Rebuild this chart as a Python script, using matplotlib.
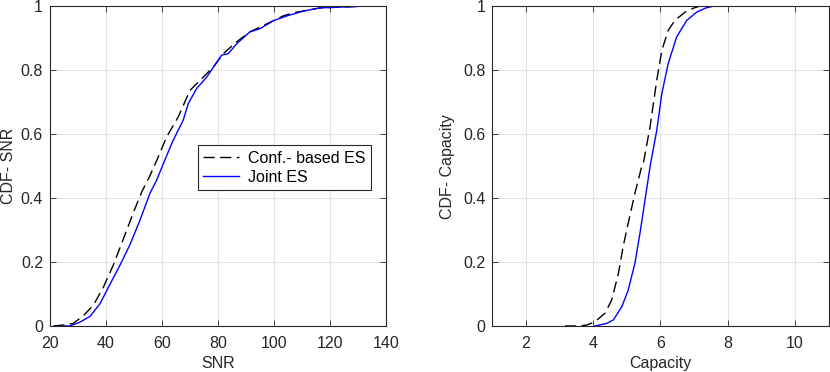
import matplotlib
matplotlib.use('Agg')
import matplotlib.pyplot as plt

# CDF del SNR
snr_conf_x = [21.2, 24.8, 28.3, 31.9, 35.5, 39.0, 42.6, 46.2, 49.8, 52.7, 55.7, 58.0, 61.7,
              65.8, 70.0, 74.8, 78.3, 81.9, 86.7, 91.4, 95.0, 98.6, 103.3, 107.0, 116.4, 130.7]
snr_conf_y = [0.0, 0.003, 0.008, 0.032, 0.065, 0.12, 0.19, 0.272, 0.355, 0.418, 0.47, 0.515,
              0.592, 0.654, 0.737, 0.779, 0.81, 0.852, 0.889, 0.92, 0.935, 0.95, 0.97, 0.98,
              0.995, 1.0]
snr_joint_x = [24.2, 27.1, 30.7, 34.3, 37.9, 41.4, 45.0, 48.6, 52.1, 55.7, 58.1, 60.5, 64.0,
               67.6, 69.4, 72.4, 76.0, 78.9, 81.3, 83.7, 86.7, 91.4, 95.0, 99.8, 104.6, 110.5,
               116.4, 130.7]
snr_joint_y = [0.0, 0.0, 0.012, 0.03, 0.07, 0.13, 0.19, 0.255, 0.33, 0.415, 0.456, 0.508,
               0.581, 0.644, 0.696, 0.743, 0.779, 0.816, 0.847, 0.852, 0.883, 0.92, 0.93, 0.955,
               0.97, 0.985, 0.995, 1.0]

# CDF de la capacidad
cap_conf_x = [3.16, 3.56, 3.81, 4.05, 4.35, 4.55, 4.75, 4.89, 5.04, 5.24, 5.44, 5.49, 5.69,
              5.89, 6.04, 6.23, 6.43, 6.73, 7.0, 7.15]
cap_conf_y = [0.0, 0.0, 0.003, 0.013, 0.04, 0.081, 0.165, 0.248, 0.321, 0.415, 0.498, 0.508,
              0.623, 0.769, 0.862, 0.925, 0.956, 0.982, 0.995, 1.0]
cap_joint_x = [4.05, 4.40, 4.60, 4.85, 5.04, 5.24, 5.39, 5.54, 5.70, 5.89, 6.04, 6.23, 6.48,
               6.78, 7.08, 7.35, 7.56]
cap_joint_y = [0.0, 0.008, 0.019, 0.06, 0.112, 0.196, 0.29, 0.394, 0.505, 0.612, 0.727, 0.821,
               0.904, 0.956, 0.982, 0.995, 1.0]

plt.rcParams['font.family'] = ['Liberation Sans', 'DejaVu Sans']
plt.rcParams['font.size'] = 11.5

fig = plt.figure(figsize=(8.3, 3.72), dpi=100)
ax1 = fig.add_axes([0.0602, 0.1237, 0.4048, 0.8593])
ax2 = fig.add_axes([0.5931, 0.1237, 0.4053, 0.8593])

GRIS = '#262626'


def estilo(ax):
    ax.grid(True, color='#e3e3e3', linewidth=0.8)
    ax.set_axisbelow(True)
    for s in ax.spines.values():
        s.set_color(GRIS)
        s.set_linewidth(0.8)
    ax.tick_params(direction='in', top=True, right=True, colors=GRIS,
                   labelsize=11.5, length=4, width=0.6)
    ax.tick_params(axis='x', pad=7.5)
    ax.tick_params(axis='y', pad=5)
    ax.set_ylim(0, 1)
    ax.set_yticks([0, 0.2, 0.4, 0.6, 0.8, 1])
    ax.set_yticklabels(['0', '0.2', '0.4', '0.6', '0.8', '1'])


ax1.plot(snr_conf_x, snr_conf_y, color='black', linestyle=(0, (8, 4)), linewidth=1.0,
         label='Conf.- based ES')
ax1.plot(snr_joint_x, snr_joint_y, color='#0000ff', linewidth=1.0, label='Joint ES')
estilo(ax1)
ax1.set_xlim(20, 140)
ax1.set_xticks([20, 40, 60, 80, 100, 120, 140])
ax1.set_xlabel('SNR', color=GRIS, labelpad=3)
ax1.set_ylabel('CDF- SNR', color=GRIS, labelpad=3)
leg = ax1.legend(loc='upper left', bbox_to_anchor=(0.44, 0.566), fancybox=False,
                 framealpha=1, edgecolor=GRIS, fontsize=11.5, handlelength=2.2,
                 borderaxespad=0, borderpad=0.35, labelspacing=0.25, handletextpad=0.6)
leg.get_frame().set_linewidth(0.8)

ax2.plot(cap_conf_x, cap_conf_y, color='black', linestyle=(0, (8, 4)), linewidth=1.0)
ax2.plot(cap_joint_x, cap_joint_y, color='#0000ff', linewidth=1.0)
estilo(ax2)
ax2.set_xlim(1, 11)
ax2.set_xticks([2, 4, 6, 8, 10])
ax2.set_xlabel('Capacity', color=GRIS, labelpad=3)
ax2.set_ylabel('CDF- Capacity', color=GRIS, labelpad=6)

fig.savefig('out.png', dpi=100)
